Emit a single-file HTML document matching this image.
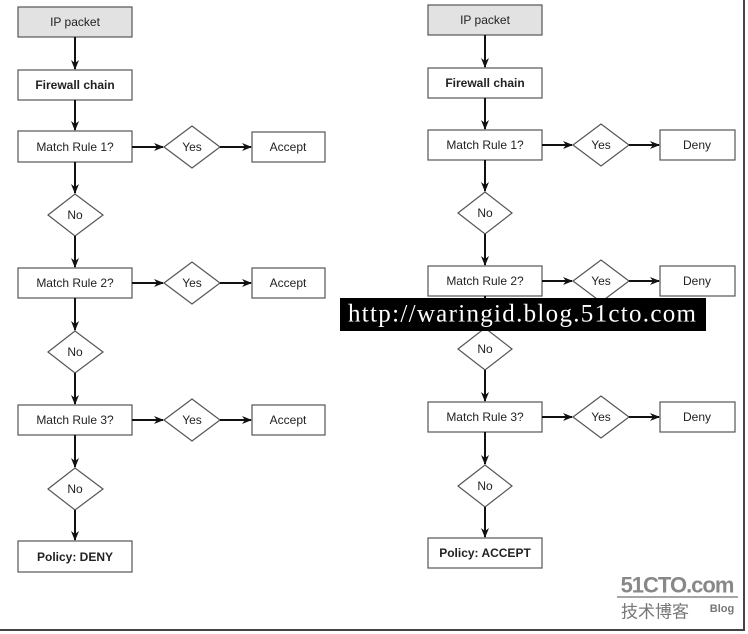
<!DOCTYPE html>
<html><head><meta charset="utf-8"><style>
html,body{margin:0;padding:0;background:#fff;}
svg{display:block;}
text{font-family:"Liberation Sans",Arial,sans-serif;font-size:12px;fill:#222;text-anchor:middle;dominant-baseline:central;}
.b{font-weight:bold;}
</style></head><body>
<svg width="748" height="634" viewBox="0 0 748 634" xmlns="http://www.w3.org/2000/svg">
<defs><marker id="a" markerWidth="10" markerHeight="8" refX="9" refY="4" orient="auto" markerUnits="userSpaceOnUse"><path d="M0,0 L10,4 L0,8 L3,4 z" fill="#111"/></marker></defs>
<rect x="0" y="0" width="748" height="634" fill="#fff"/>
<g stroke="#555" stroke-width="1.2" fill="#fff">
<rect x="18" y="7" width="114" height="30" fill="#e2e2e2"/>
<rect x="18" y="70" width="114" height="30"/>
<rect x="18" y="131" width="114" height="31"/>
<rect x="252" y="132" width="73" height="30"/>
<rect x="18" y="268" width="114" height="30"/>
<rect x="252" y="268" width="73" height="30"/>
<rect x="18" y="405" width="114" height="30"/>
<rect x="252" y="405" width="73" height="30"/>
<rect x="18" y="541" width="114" height="31"/>
<polygon points="164,147 192,126 220,147 192,168"/>
<polygon points="164,283 192,262 220,283 192,304"/>
<polygon points="164,420 192,399 220,420 192,441"/>
<polygon points="48,215 75,194 103,215 75,236"/>
<polygon points="48,352 75,331 103,352 75,373"/>
<polygon points="48,489 75,468 103,489 75,510"/>
<rect x="428" y="5" width="114" height="30" fill="#e2e2e2"/>
<rect x="428" y="68" width="114" height="30"/>
<rect x="428" y="130" width="114" height="30"/>
<rect x="660" y="130" width="75" height="30"/>
<rect x="428" y="266" width="114" height="30"/>
<rect x="660" y="266" width="75" height="30"/>
<rect x="428" y="402" width="114" height="30"/>
<rect x="660" y="402" width="75" height="30"/>
<rect x="428" y="538" width="114" height="30"/>
<polygon points="573,145 601,124 629,145 601,166"/>
<polygon points="573,281 601,260 629,281 601,302"/>
<polygon points="573,417 601,396 629,417 601,438"/>
<polygon points="458,213 485,192 512,213 485,234"/>
<polygon points="458,349 485,328 512,349 485,370"/>
<polygon points="458,486 485,465 512,486 485,507"/>
</g>
<g stroke="#111" stroke-width="2" marker-end="url(#a)">
<line x1="75" y1="37" x2="75" y2="69"/>
<line x1="75" y1="100" x2="75" y2="130"/>
<line x1="75" y1="162" x2="75" y2="193"/>
<line x1="75" y1="236" x2="75" y2="267"/>
<line x1="75" y1="298" x2="75" y2="330"/>
<line x1="75" y1="373" x2="75" y2="404"/>
<line x1="75" y1="435" x2="75" y2="467"/>
<line x1="75" y1="510" x2="75" y2="540"/>
<line x1="132" y1="147" x2="163" y2="147"/>
<line x1="220" y1="147" x2="251" y2="147"/>
<line x1="132" y1="283" x2="163" y2="283"/>
<line x1="220" y1="283" x2="251" y2="283"/>
<line x1="132" y1="420" x2="163" y2="420"/>
<line x1="220" y1="420" x2="251" y2="420"/>
<line x1="485" y1="35" x2="485" y2="67"/>
<line x1="485" y1="98" x2="485" y2="129"/>
<line x1="485" y1="160" x2="485" y2="191"/>
<line x1="485" y1="234" x2="485" y2="265"/>
<line x1="485" y1="296" x2="485" y2="327"/>
<line x1="485" y1="370" x2="485" y2="401"/>
<line x1="485" y1="432" x2="485" y2="464"/>
<line x1="485" y1="507" x2="485" y2="537"/>
<line x1="542" y1="145" x2="572" y2="145"/>
<line x1="629" y1="145" x2="659" y2="145"/>
<line x1="542" y1="281" x2="572" y2="281"/>
<line x1="629" y1="281" x2="659" y2="281"/>
<line x1="542" y1="417" x2="572" y2="417"/>
<line x1="629" y1="417" x2="659" y2="417"/>
</g>
<text x="75" y="22">IP packet</text>
<text x="75" y="85" class="b">Firewall chain</text>
<text x="75" y="147">Match Rule 1?</text>
<text x="75" y="283">Match Rule 2?</text>
<text x="75" y="420">Match Rule 3?</text>
<text x="75" y="557" class="b">Policy: DENY</text>
<text x="192" y="147">Yes</text><text x="192" y="283">Yes</text><text x="192" y="420">Yes</text>
<text x="288" y="147">Accept</text><text x="288" y="283">Accept</text><text x="288" y="420">Accept</text>
<text x="75" y="215">No</text><text x="75" y="352">No</text><text x="75" y="489">No</text>
<text x="485" y="20">IP packet</text>
<text x="485" y="83" class="b">Firewall chain</text>
<text x="485" y="145">Match Rule 1?</text>
<text x="485" y="281">Match Rule 2?</text>
<text x="485" y="417">Match Rule 3?</text>
<text x="485" y="553" class="b">Policy: ACCEPT</text>
<text x="601" y="145">Yes</text><text x="601" y="281">Yes</text><text x="601" y="417">Yes</text>
<text x="697" y="145">Deny</text><text x="697" y="281">Deny</text><text x="697" y="417">Deny</text>
<text x="485" y="213">No</text><text x="485" y="349">No</text><text x="485" y="486">No</text>
<rect x="340" y="298" width="366" height="33" fill="#000"/>
<text x="522" y="314" textLength="348" lengthAdjust="spacing" style="font-family:'Liberation Serif',serif;font-size:25px;fill:#fff">http://waringid.blog.51cto.com</text>
<text x="677" y="585" style="font-family:'Liberation Sans',sans-serif;font-size:22px;font-weight:bold;fill:#888;letter-spacing:-1px">51CTO.com</text>
<line x1="617" y1="597" x2="738" y2="597" stroke="#888" stroke-width="1.5"/>
<text x="655" y="612" style="font-family:'Liberation Sans','Noto Sans CJK SC',sans-serif;font-size:17px;fill:#777">技术博客</text>
<text x="722" y="609" style="font-size:11px;font-weight:bold;fill:#777">Blog</text>
<line x1="744" y1="0" x2="744" y2="631" stroke="#444" stroke-width="2"/>
<line x1="0" y1="630" x2="745" y2="630" stroke="#444" stroke-width="2"/>
</svg>
</body></html>
